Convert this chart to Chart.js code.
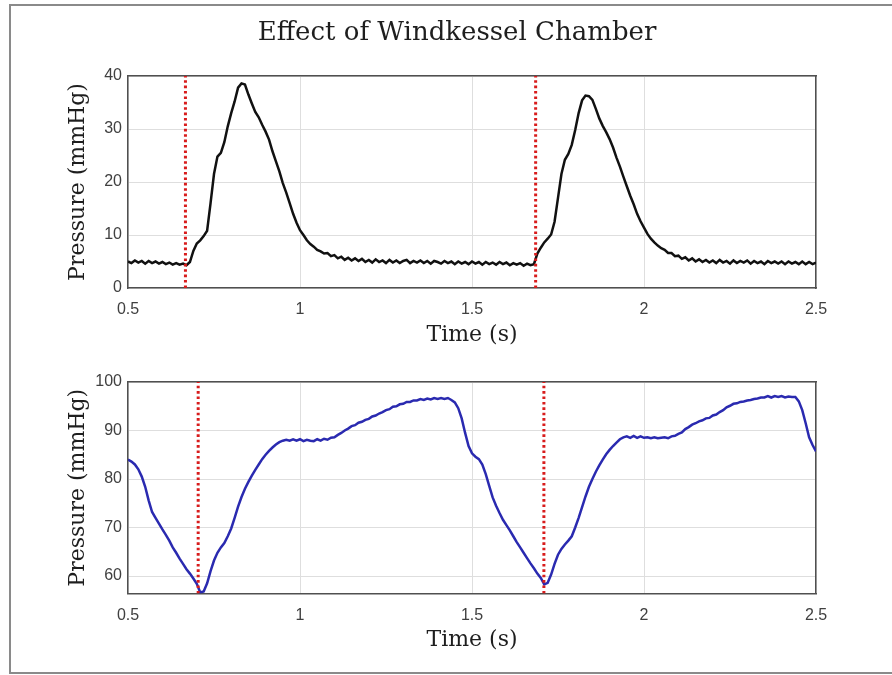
<!DOCTYPE html>
<html>
<head>
<meta charset="utf-8">
<script src="https://cdn.jsdelivr.net/npm/chart.js@4.4.0/dist/chart.umd.min.js"></script>
<style>
html,body{margin:0;padding:0;background:#fff;width:892px;height:675px;overflow:hidden;position:relative}
#frame{position:absolute;left:9px;top:4px;width:900px;height:670px;border:2px solid #8a8a8a;box-sizing:border-box}
canvas{position:absolute;left:0}
#c1{top:0}
#c2{top:350px}
</style>
</head>
<body>
<div id="frame"></div>
<canvas id="c1" width="914" height="350"></canvas>
<canvas id="c2" width="914" height="325"></canvas>
<script>
const T = [
0.50,0.51,0.52,0.53,0.54,0.55,0.56,0.57,0.58,0.59,
0.60,0.61,0.62,0.63,0.64,0.65,0.66,0.67,0.68,0.69,
0.70,0.71,0.72,0.73,0.74,0.75,0.76,0.77,0.78,0.79,
0.80,0.81,0.82,0.83,0.84,0.85,0.86,0.87,0.88,0.89,
0.90,0.91,0.92,0.93,0.94,0.95,0.96,0.97,0.98,0.99,
1.00,1.01,1.02,1.03,1.04,1.05,1.06,1.07,1.08,1.09,
1.10,1.11,1.12,1.13,1.14,1.15,1.16,1.17,1.18,1.19,
1.20,1.21,1.22,1.23,1.24,1.25,1.26,1.27,1.28,1.29,
1.30,1.31,1.32,1.33,1.34,1.35,1.36,1.37,1.38,1.39,
1.40,1.41,1.42,1.43,1.44,1.45,1.46,1.47,1.48,1.49,
1.50,1.51,1.52,1.53,1.54,1.55,1.56,1.57,1.58,1.59,
1.60,1.61,1.62,1.63,1.64,1.65,1.66,1.67,1.68,1.69,
1.70,1.71,1.72,1.73,1.74,1.75,1.76,1.77,1.78,1.79,
1.80,1.81,1.82,1.83,1.84,1.85,1.86,1.87,1.88,1.89,
1.90,1.91,1.92,1.93,1.94,1.95,1.96,1.97,1.98,1.99,
2.00,2.01,2.02,2.03,2.04,2.05,2.06,2.07,2.08,2.09,
2.10,2.11,2.12,2.13,2.14,2.15,2.16,2.17,2.18,2.19,
2.20,2.21,2.22,2.23,2.24,2.25,2.26,2.27,2.28,2.29,
2.30,2.31,2.32,2.33,2.34,2.35,2.36,2.37,2.38,2.39,
2.40,2.41,2.42,2.43,2.44,2.45,2.46,2.47,2.48,2.49,
2.50];

const topPressure = [
5.0,4.7,5.2,4.8,5.1,4.6,5.1,4.7,5.0,4.6,
4.9,4.5,4.8,4.4,4.7,4.4,4.6,4.3,4.9,7.0,
8.4,9.0,9.8,10.8,16.0,21.5,24.8,25.5,27.5,30.5,
33.0,35.2,37.8,38.6,38.4,36.5,34.8,33.2,32.2,30.8,
29.5,28.0,25.8,23.9,22.0,19.8,18.0,16.0,14.0,12.3,
10.9,10.0,9.0,8.3,7.8,7.2,6.9,6.5,6.6,6.0,
6.2,5.6,5.9,5.3,5.7,5.2,5.6,5.1,5.5,4.9,
5.3,4.8,5.4,4.9,5.2,4.7,5.3,4.8,5.2,4.7,
5.1,5.3,4.7,5.1,4.8,5.2,4.7,5.1,4.6,5.1,
4.9,4.6,5.1,4.7,5.0,4.5,5.0,4.6,4.9,4.5,
5.0,4.6,4.9,4.4,4.9,4.5,4.8,4.4,4.9,4.5,
4.8,4.3,4.7,4.4,4.7,4.2,4.6,4.3,4.5,6.5,
7.6,8.6,9.3,10.1,12.5,17.0,21.5,24.2,25.3,27.0,
29.8,33.0,35.4,36.3,36.2,35.5,33.8,32.0,30.6,29.4,
28.1,26.5,24.6,22.9,21.0,19.2,17.4,15.8,14.0,12.6,
11.4,10.2,9.3,8.6,8.0,7.5,7.2,6.6,6.6,6.0,
6.1,5.5,5.8,5.2,5.6,5.0,5.4,4.9,5.3,4.8,
5.2,4.7,5.3,4.8,5.1,4.6,5.2,4.7,5.1,4.8,
5.2,4.6,5.1,4.7,5.0,4.5,5.1,4.7,5.0,4.6,
5.0,4.5,5.0,4.6,4.9,4.5,5.0,4.5,4.9,4.5,
4.8];

const bottomPressure = [
84.0,83.6,83.0,82.0,80.5,78.4,75.6,73.2,72.0,70.8,
69.6,68.5,67.3,65.9,64.8,63.6,62.5,61.4,60.5,59.5,
58.4,56.6,56.8,58.5,61.0,63.2,64.8,65.9,66.8,68.2,
69.8,72.0,74.3,76.3,78.0,79.4,80.7,81.9,83.0,84.1,
85.0,85.8,86.5,87.1,87.6,87.9,88.1,87.9,88.2,87.9,
88.2,87.8,88.1,87.9,87.8,88.2,87.9,88.3,88.1,88.5,
88.6,89.1,89.5,90.0,90.4,90.9,91.1,91.6,91.8,92.2,
92.4,92.9,93.1,93.5,93.8,94.2,94.4,94.9,95.0,95.4,
95.5,95.9,95.9,96.2,96.2,96.5,96.3,96.6,96.4,96.7,
96.5,96.7,96.5,96.7,96.3,95.8,94.6,92.5,89.5,86.8,
85.3,84.6,84.1,83.0,81.0,78.6,76.2,74.5,73.0,71.6,
70.5,69.4,68.2,67.0,65.9,64.8,63.7,62.6,61.6,60.5,
59.6,58.3,58.6,60.3,62.5,64.4,65.6,66.5,67.3,68.2,
70.0,72.0,74.2,76.4,78.4,80.0,81.5,82.8,84.0,85.1,
86.0,86.8,87.5,88.2,88.6,88.8,88.5,88.9,88.5,88.8,
88.5,88.6,88.4,88.6,88.4,88.5,88.6,88.4,88.8,88.9,
89.3,89.6,90.3,90.7,91.2,91.5,91.9,92.1,92.5,92.6,
93.1,93.3,93.8,94.2,94.8,95.1,95.5,95.6,95.9,96.0,
96.2,96.3,96.5,96.6,96.8,96.8,97.1,96.8,97.1,96.9,
97.1,96.8,97.0,96.9,96.9,96.0,94.2,91.5,88.6,87.0,
85.7];

const topOnsets = [0.667, 1.685];
const bottomOnsets = [0.704, 1.709];
const xRange = [0.5, 2.5];
const xTicks = [0.5, 1, 1.5, 2, 2.5];
const topYRange = [0, 40];
const topYTicks = [0, 10, 20, 30, 40];
const bottomYRange = [56.4, 100];
const bottomYTicks = [60, 70, 80, 90, 100];
const chartTitle = 'Effect of Windkessel Chamber';
const xLabel = 'Time (s)';
const yLabel = 'Pressure (mmHg)';

const serif = "'DejaVu Serif', serif";
const sans = "'Liberation Sans', Arial, sans-serif";
const tickFont = {family: sans, size: 16};
const labelFont = {family: serif, size: 22, weight: 'normal'};
const gridColor = '#dedede';
const axisColor = '#505050';

function fixedTicks(arr) {
  return function (scale) { scale.ticks = arr.map(v => ({value: v})); };
}

function buildChart(id, values, color, onsets, yRange, yTicks, cfg) {
  const datasets = onsets.map(t => ({
    data: [{x: t, y: yRange[0]}, {x: t, y: yRange[1]}],
    borderColor: '#d81c1c', borderWidth: 3, borderDash: [2.6, 2.8],
    pointRadius: 0, fill: false
  }));
  datasets.push({
    data: T.map((t, i) => ({x: t, y: values[i]})),
    borderColor: color, borderWidth: 2.5, pointRadius: 0, tension: 0, fill: false
  });
  const plugins = {legend: {display: false}, tooltip: {enabled: false}};
  plugins.title = cfg.title ? {
    display: true, text: cfg.title, color: '#1e1e1e',
    font: {family: serif, size: 26, weight: 'normal'},
    padding: {top: 17.4, bottom: 27.4}
  } : {display: false};
  return new Chart(document.getElementById(id), {
    type: 'line',
    data: {datasets},
    options: {
      responsive: false, animation: false, devicePixelRatio: 1,
      layout: {padding: {left: 0, right: 0, top: cfg.padTop, bottom: 0}},
      plugins,
      scales: {
        x: {
          type: 'linear', position: 'bottom', min: xRange[0], max: xRange[1],
          afterBuildTicks: fixedTicks(xTicks),
          afterFit: s => { s.height = cfg.xH; },
          grid: {color: gridColor, lineWidth: 1, drawTicks: false},
          border: {display: true, color: axisColor, width: 1.5},
          ticks: {padding: 12, color: '#404040', font: tickFont, maxRotation: 0, autoSkip: false,
                  callback: v => String(v)},
          title: {display: true, text: xLabel, color: '#1e1e1e', font: labelFont,
                  padding: {top: 0, bottom: cfg.xTitlePad}}
        },
        y: {
          type: 'linear', position: 'left', min: yRange[0], max: yRange[1],
          afterBuildTicks: fixedTicks(yTicks),
          afterFit: s => { s.width = 128; },
          grid: {color: gridColor, lineWidth: 1, drawTicks: false},
          border: {display: true, color: axisColor, width: 1.5},
          ticks: {padding: 6, color: '#404040', font: tickFont, callback: v => String(v)},
          title: {display: true, text: yLabel, color: '#1e1e1e', font: labelFont,
                  padding: {top: 64.8, bottom: 0}}
        },
        x2: {
          type: 'linear', position: 'top', min: xRange[0], max: xRange[1],
          afterFit: s => { s.height = 0; },
          ticks: {display: false},
          grid: {drawOnChartArea: false, drawTicks: false},
          border: {display: true, color: axisColor, width: 1.5}
        },
        y2: {
          type: 'linear', position: 'right', min: yRange[0], max: yRange[1],
          afterFit: s => { s.width = 98; },
          ticks: {display: false},
          grid: {drawOnChartArea: false, drawTicks: false},
          border: {display: true, color: axisColor, width: 1.5}
        }
      }
    }
  });
}

buildChart('c1', topPressure, '#111111', topOnsets, topYRange, topYTicks,
  {title: chartTitle, padTop: 0, xH: 62, xTitlePad: 1.8});
buildChart('c2', bottomPressure, '#2a2ab0', bottomOnsets, bottomYRange, bottomYTicks,
  {title: null, padTop: 32, xH: 81.5, xTitlePad: 21.8});
</script>
</body>
</html>
